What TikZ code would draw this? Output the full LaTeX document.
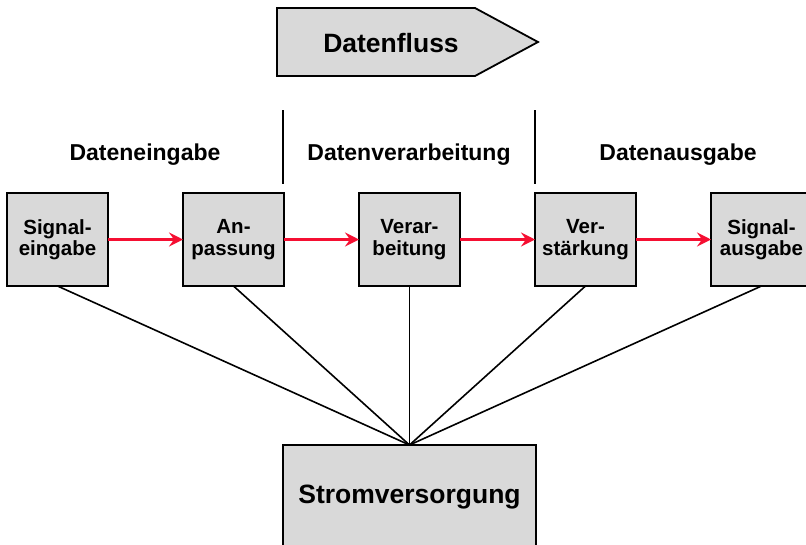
\documentclass[tikz,border=0pt]{standalone}
\usepackage{fontspec}
\setmainfont{Liberation Sans}
\usepackage{tikz}
\usetikzlibrary{arrows.meta}
\tikzset{>={Stealth[length=14pt,width=14pt,inset=5pt]}}
\usepackage{xcolor}
\definecolor{myred}{RGB}{245,15,50}
\definecolor{mygray}{RGB}{217,217,217}

\begin{document}
\begin{tikzpicture}[x=1pt, y=-1pt, % Pixelkoordinaten, y nach unten
                    line cap=butt, line join=miter,
                    block/.style={draw, line width=1.8pt, fill=mygray, inner sep=0pt, outer sep=0pt,
                                  minimum width=101pt, minimum height=93pt, align=center,
                                  font=\bfseries\fontsize{20.5}{21.5}\selectfont},
                    flow/.style={->, myred, line width=2.8pt},
                    supply/.style={black, line width=1.6pt},
                    phase/.style={anchor=base, font=\bfseries\fontsize{23}{25}\selectfont}]
  \useasboundingbox (0,0) rectangle (806,544);
  \def\pitch{176} % Abstand der Bloecke
  \def\yBlock{239.5} % Hoehe der Blockmitte

% Pfeil fuer den Datenfluss
  \draw[line width=1.8pt, fill=mygray] (277,8) -- (475,8) -- (538,42) -- (475,76) -- (277,76) -- cycle;
  \node[anchor=base, font=\bfseries\fontsize{26.5}{28}\selectfont] (flow) at (391,52) {Datenfluss};

% Trennlinien und Abschnitte
  \draw[line width=2.4pt] (283,110) -- (283,184);
  \draw[line width=2.4pt] (535,110) -- (535,184);
  \node[phase] (input)   at (145,160) {Dateneingabe};
  \node[phase] (process) at (409,160) {Datenverarbeitung};
  \node[phase] (output)  at (678,160) {Datenausgabe};

% Bloecke der Signalkette
  \foreach \name/\text [count=\i] in {sigin/{Signal-\\eingabe}, adapt/{An-\\passung},
                                      proc/{Verar-\\beitung}, amp/{Ver-\\st\"arkung},
                                      sigout/{Signal-\\ausgabe}}{
    \node[block] (\name) at ({57.5+(\i-1)*\pitch},\yBlock) {\text};
  }

% Stromversorgung
  \node[block, minimum width=253pt, minimum height=105pt, font=\bfseries\fontsize{26.5}{28}\selectfont]
    (power) at (409.5,497.5) {Stromversorgung};

% Datenfluss zwischen den Bloecken
  \draw[flow] (sigin) -- (adapt);
  \draw[flow] (adapt) -- (proc);
  \draw[flow] (proc) -- (amp);
  \draw[flow] (amp) -- (sigout);

% Versorgungsleitungen
  \foreach \name in {sigin, adapt, proc, amp, sigout}{
    \draw[supply] (\name.south) -- (power.north);
  }
\end{tikzpicture}
\end{document}
